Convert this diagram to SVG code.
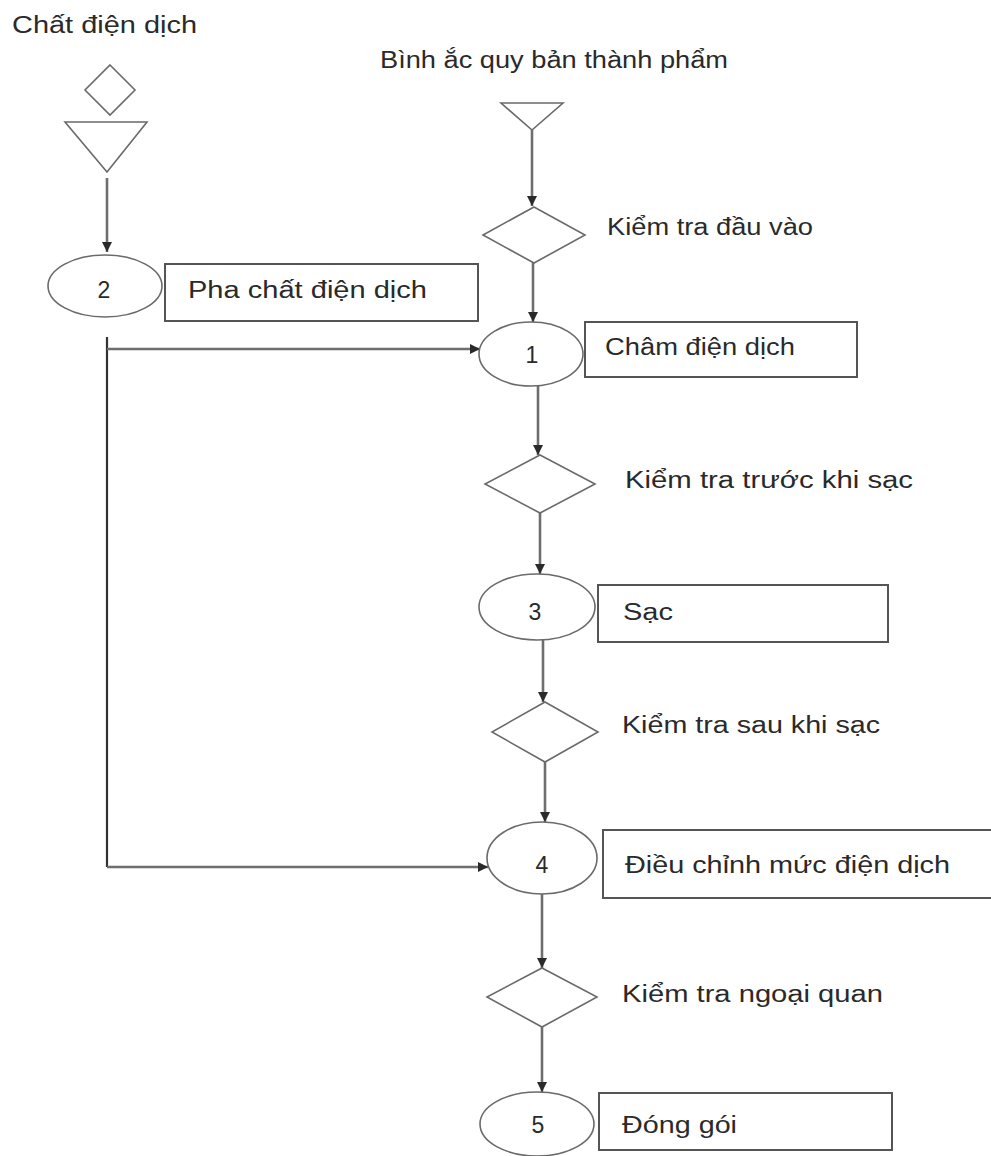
<svg xmlns="http://www.w3.org/2000/svg" width="991" height="1156" viewBox="0 0 991 1156">
  <style>
    .shape { fill: #ffffff; stroke: #6a6a6a; stroke-width: 1.6; }
    .box { fill: #ffffff; stroke: #555555; stroke-width: 2; }
    .flow { fill: none; stroke: #6e6e6e; stroke-width: 2.6; }
    .side { fill: none; stroke: #333333; stroke-width: 2.2; }
    text { font-family: "Liberation Sans", Arial, sans-serif; font-size: 23px; fill: #2a2a2a; }
    .num { text-anchor: middle; }
  </style>
  <defs>
    <marker id="arrow" markerUnits="userSpaceOnUse" markerWidth="12" markerHeight="12" refX="10" refY="6" orient="auto">
      <path d="M0,1 L10,6 L0,11 Z" fill="#2a2a2a"/>
    </marker>
  </defs>

  <!-- Input labels -->
  <text x="12" y="33" textLength="185" lengthAdjust="spacingAndGlyphs">Chất điện dịch</text>
  <text x="380" y="68" textLength="348" lengthAdjust="spacingAndGlyphs">Bình ắc quy bản thành phẩm</text>

  <!-- Connectors -->
  <g id="connectors">
    <line class="flow" x1="107" y1="178" x2="107" y2="252" marker-end="url(#arrow)"/>
    <line class="flow" x1="532" y1="130" x2="532" y2="206" marker-end="url(#arrow)"/>
    <line class="flow" x1="533" y1="263" x2="533" y2="322" marker-end="url(#arrow)"/>
    <line class="flow" x1="538" y1="386" x2="538" y2="455" marker-end="url(#arrow)"/>
    <line class="flow" x1="540" y1="513" x2="540" y2="574" marker-end="url(#arrow)"/>
    <line class="flow" x1="543" y1="640" x2="543" y2="702" marker-end="url(#arrow)"/>
    <line class="flow" x1="545" y1="762" x2="545" y2="822" marker-end="url(#arrow)"/>
    <line class="flow" x1="542" y1="894" x2="542" y2="968" marker-end="url(#arrow)"/>
    <line class="flow" x1="542" y1="1027" x2="542" y2="1092" marker-end="url(#arrow)"/>
    <line class="side" x1="107" y1="337" x2="107" y2="867"/>
    <line class="flow" x1="107" y1="349" x2="480" y2="349" marker-end="url(#arrow)"/>
    <line class="flow" x1="107" y1="867" x2="488" y2="867" marker-end="url(#arrow)"/>
  </g>

  <!-- Electrolyte supply -->
  <g id="electrolyte-store">
    <polygon class="shape" points="110,65 135,90 110,115 85,90"/>
    <polygon class="shape" points="65,122 147,122 107,172"/>
  </g>

  <!-- Step 2: electrolyte mixing -->
  <g id="step-2">
    <ellipse class="shape" cx="105" cy="286" rx="57" ry="31"/>
    <text class="num" x="104" y="298">2</text>
    <rect class="box" x="165" y="264" width="313" height="57"/>
    <text x="188" y="298" textLength="239" lengthAdjust="spacingAndGlyphs">Pha chất điện dịch</text>
  </g>

  <!-- Semi-finished battery store -->
  <g id="battery-store">
    <polygon class="shape" points="501,103 563,103 532,130"/>
  </g>

  <g id="check-input">
    <polygon class="shape" points="534,207 585,235 534,263 483,235"/>
    <text x="607" y="235" textLength="206" lengthAdjust="spacingAndGlyphs">Kiểm tra đầu vào</text>
  </g>

  <!-- Step 1: electrolyte filling -->
  <g id="step-1">
    <ellipse class="shape" cx="531" cy="354" rx="52" ry="32"/>
    <text class="num" x="532" y="363">1</text>
    <rect class="box" x="585" y="322" width="272" height="55"/>
    <text x="605" y="355" textLength="190" lengthAdjust="spacingAndGlyphs">Châm điện dịch</text>
  </g>

  <g id="check-before-charge">
    <polygon class="shape" points="540,455 595,484 540,513 485,484"/>
    <text x="625" y="488" textLength="288" lengthAdjust="spacingAndGlyphs">Kiểm tra trước khi sạc</text>
  </g>

  <!-- Step 3: charging -->
  <g id="step-3">
    <ellipse class="shape" cx="537" cy="607" rx="58" ry="33"/>
    <text class="num" x="535" y="620">3</text>
    <rect class="box" x="598" y="585" width="290" height="57"/>
    <text x="623" y="620" textLength="50" lengthAdjust="spacingAndGlyphs">Sạc</text>
  </g>

  <g id="check-after-charge">
    <polygon class="shape" points="545,702 598,732 545,762 492,732"/>
    <text x="622" y="733" textLength="258" lengthAdjust="spacingAndGlyphs">Kiểm tra sau khi sạc</text>
  </g>

  <!-- Step 4: electrolyte level adjustment -->
  <g id="step-4">
    <ellipse class="shape" cx="542" cy="858" rx="55" ry="36"/>
    <text class="num" x="542" y="873">4</text>
    <rect class="box" x="603" y="830" width="400" height="68"/>
    <text x="625" y="873" textLength="325" lengthAdjust="spacingAndGlyphs">Điều chỉnh mức điện dịch</text>
  </g>

  <g id="check-appearance">
    <polygon class="shape" points="542,968 597,997 542,1027 487,997"/>
    <text x="622" y="1002" textLength="261" lengthAdjust="spacingAndGlyphs">Kiểm tra ngoại quan</text>
  </g>

  <!-- Step 5: packing -->
  <g id="step-5">
    <ellipse class="shape" cx="537" cy="1124" rx="57" ry="32"/>
    <text class="num" x="538" y="1133">5</text>
    <rect class="box" x="599" y="1093" width="293" height="57"/>
    <text x="622" y="1133" textLength="115" lengthAdjust="spacingAndGlyphs">Đóng gói</text>
  </g>
</svg>
